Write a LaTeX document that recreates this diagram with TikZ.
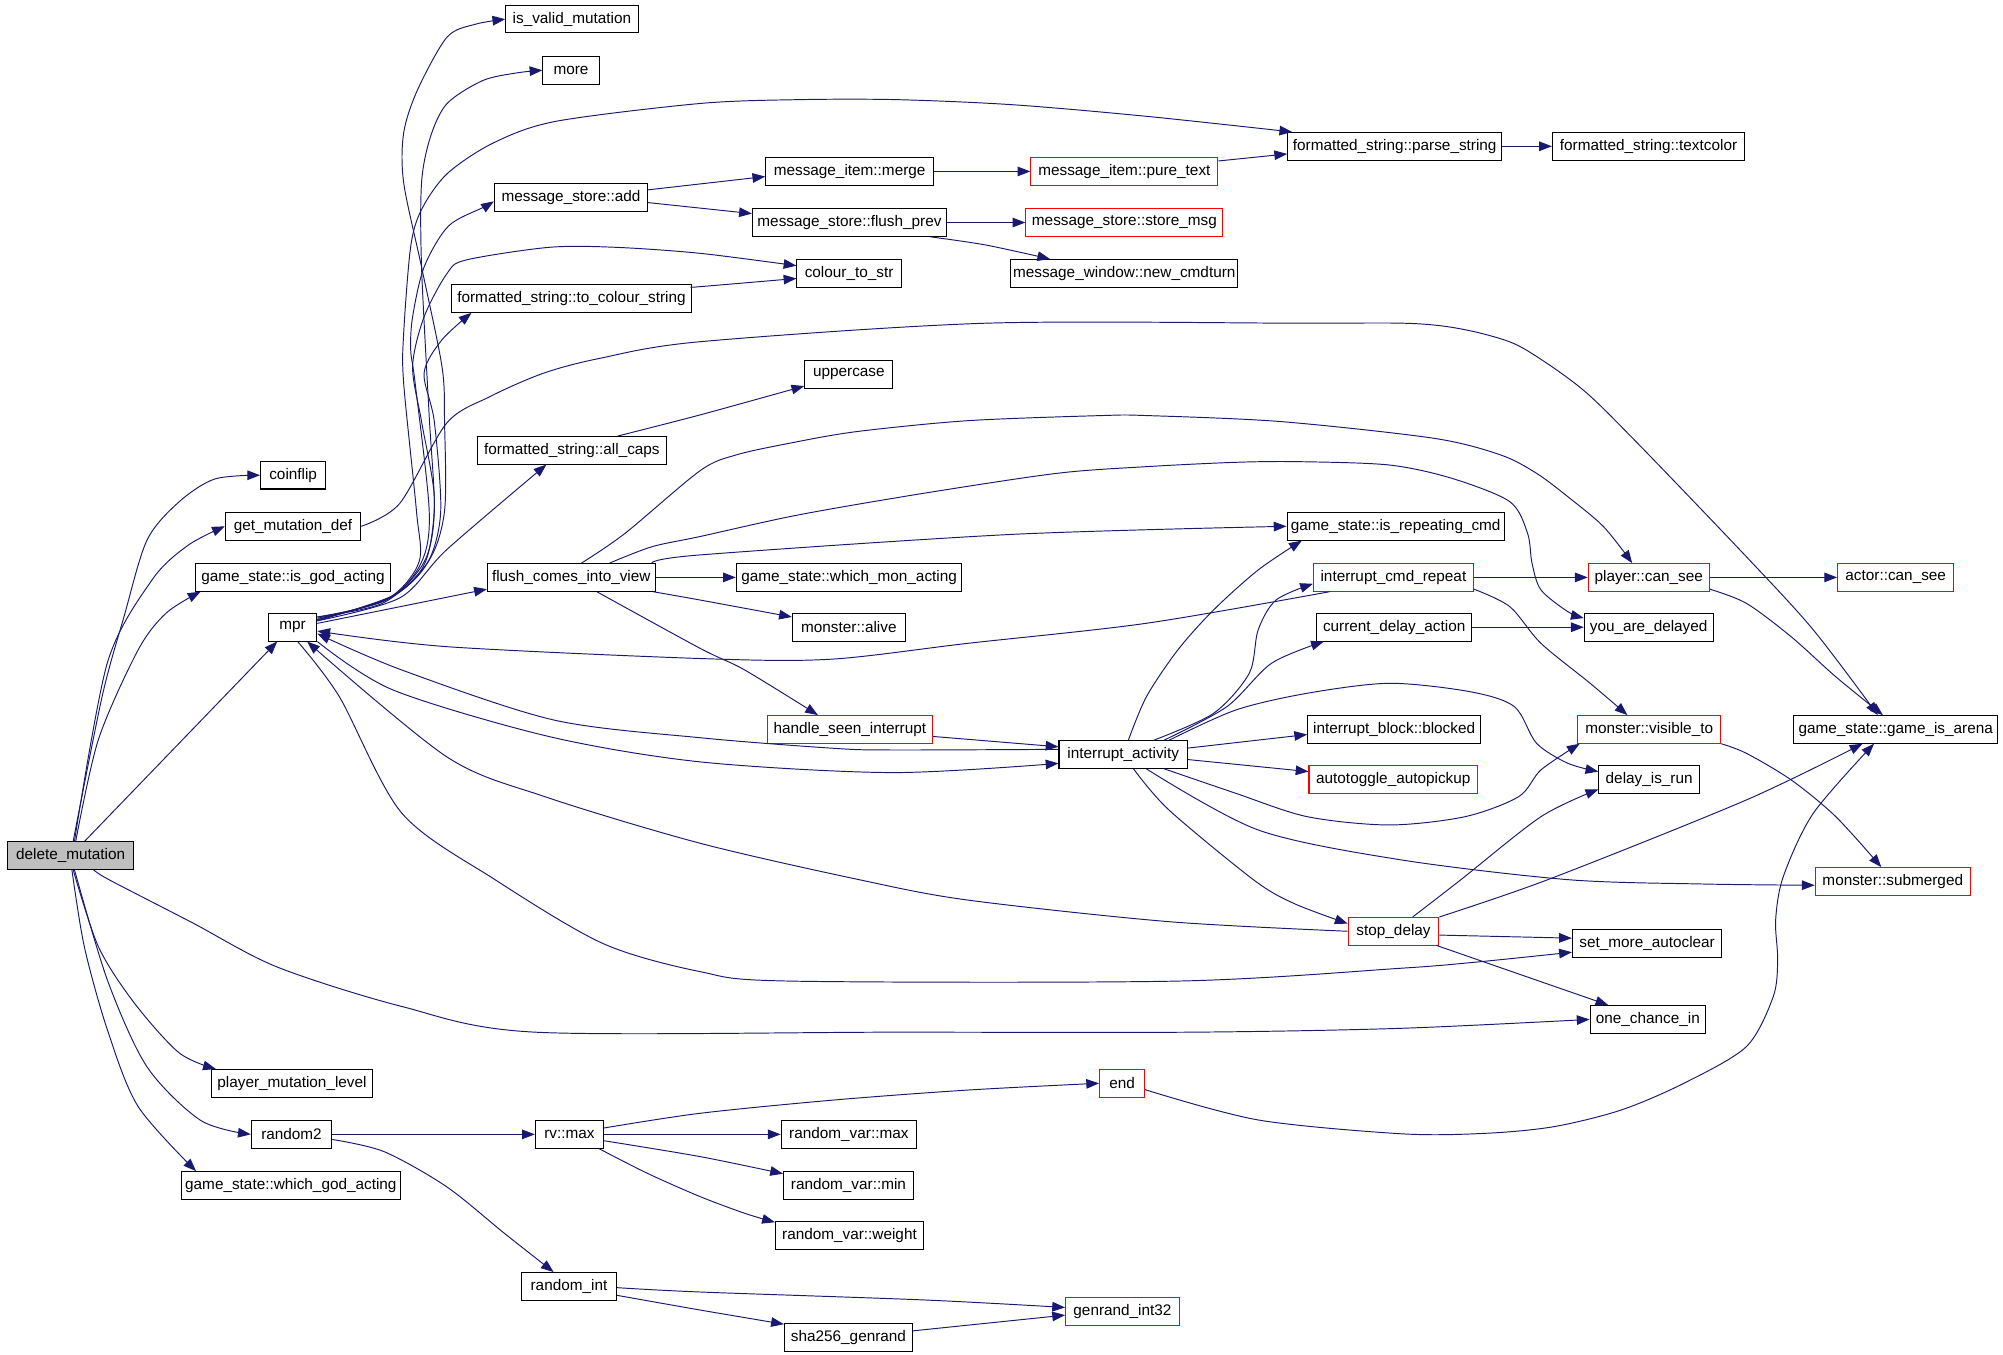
\documentclass[tikz,border=0pt]{standalone}
\usepackage{fontspec}
\setmainfont{Liberation Sans}
\usetikzlibrary{arrows.meta}
\definecolor{edgec}{RGB}{25,25,112}
\definecolor{dmfill}{RGB}{191,191,191}
\newcommand\nodefont{\fontsize{12}{14}\selectfont}
\tikzset{
  box/.style={draw=black, line width=0.8pt, minimum height=21.6pt, inner sep=0pt, font=\nodefont},
  redbox/.style={box, draw=red},
  cl/.style={draw=edgec, line width=0.75pt, -{Triangle[length=10pt,width=7.5pt]}},
}
\newcommand\nd[5][]{\node[box,#1,minimum width=#4pt] (#2) at (#3) {#5};}
\begin{document}
\begin{tikzpicture}[x=1pt,y=-1pt]
\useasboundingbox (0,0) rectangle (1568,1060.7);
% ---------- nodes ----------
\nd[fill=dmfill]{dm}{55.3,669.7}{98.6}{delete\_mutation}
\nd{coinflip}{229.5,372}{51}{coinflip}
\nd{getmut}{229.4,412}{106}{get\_mutation\_def}
\nd{isgod}{229.4,452}{152}{game\_state::is\_god\_acting}
\nd{mpr}{229,491}{38}{mpr}
\nd{pml}{228.6,848}{126.5}{player\_mutation\_level}
\nd{random2}{228.2,888}{63}{random2}
\nd{whichgod}{227.7,928}{171.6}{game\_state::which\_god\_acting}
\nd{isvalid}{447.7,15}{103.5}{is\_valid\_mutation}
\nd{more}{447,55}{44}{more}
\nd{msadd}{447,154.6}{120}{message\_store::add}
\nd{tocol}{447.4,233.7}{187.8}{formatted\_string::to\_colour\_string}
\nd{allcaps}{447.7,352.5}{147.7}{formatted\_string::all\_caps}
\nd{flush}{447.2,452}{131.3}{flush\_comes\_into\_view}
\nd{rvmax}{445.8,888}{53.5}{rv::max}
\nd{randint}{445.4,1007}{74.4}{random\_int}
\nd{merge}{665.1,134.2}{131.3}{message\_item::merge}
\nd{flushprev}{665,174.2}{152}{message\_store::flush\_prev}
\nd{colstr}{664.7,214}{81.7}{colour\_to\_str}
\nd{upper}{664.5,293}{69}{uppercase}
\nd{whichmon}{664.7,452}{176.6}{game\_state::which\_mon\_acting}
\nd{alive}{664.5,491}{88.4}{monster::alive}
\nd[redbox]{hsi}{665.3,571}{129.4}{handle\_seen\_interrupt}
\nd{rvarmax}{664.5,888}{106}{random\_var::max}
\nd{rvarmin}{664.2,928}{101.7}{random\_var::min}
\nd{rvarw}{665,967}{116}{random\_var::weight}
\nd{sha}{664.2,1046.8}{100.3}{sha256\_genrand}
\nd[redbox]{puretext}{880.2,134.2}{146.5}{message\_item::pure\_text}
\nd[redbox]{storemsg}{880.2,174.2}{154.3}{message\_store::store\_msg}
\nd{newcmd}{880.1,214}{177.7}{message\_window::new\_cmdturn}
\nd{intact}{879.3,590.6}{100.6}{interrupt\_activity}
\nd[redbox]{end}{878.4,848}{35.2}{end}
\nd[redbox]{genrand}{878.7,1026.5}{89.1}{genrand\_int32}
\nd{parse}{1091.8,114.5}{167.6}{formatted\_string::parse\_string}
\nd{isrep}{1092.6,412}{170.2}{game\_state::is\_repeating\_cmd}
\nd[redbox]{icr}{1090.8,452}{125.2}{interrupt\_cmd\_repeat}
\nd{cda}{1091.4,491}{121.3}{current\_delay\_action}
\nd{ibb}{1091.4,571}{135.5}{interrupt\_block::blocked}
\nd[redbox]{autop}{1090.7,610}{132}{autotoggle\_autopickup}
\nd[redbox]{stopd}{1090.9,729}{71}{stop\_delay}
\nd{textcolor}{1290.5,114.5}{150.5}{formatted\_string::textcolor}
\nd[redbox]{pcs}{1290.7,452}{94.8}{player::can\_see}
\nd{yad}{1290.6,491}{100.8}{you\_are\_delayed}
\nd[redbox]{mvt}{1291,571}{112}{monster::visible\_to}
\nd{dir}{1291,610}{78.8}{delay\_is\_run}
\nd{sma}{1289.4,738.4}{117}{set\_more\_autoclear}
\nd{oci}{1290,798}{90.5}{one\_chance\_in}
\nd[redbox]{acs}{1484,452}{91}{actor::can\_see}
\nd{gia}{1484,571}{160}{game\_state::game\_is\_arena}
\nd[redbox]{msub}{1481.7,690}{121.5}{monster::submerged}
% ---------- edges from delete_mutation ----------
\draw[cl] plot[smooth] coordinates {([xshift=2pt]dm.north) (80,545) (97,483) (115,423) (140,393) (168,375) (coinflip.west)};
\draw[cl] plot[smooth] coordinates {([xshift=3pt]dm.north) (84,519) (119,454) (147,427) (getmut.west)};
\draw[cl] plot[smooth] coordinates {([xshift=4pt]dm.north) (77,579) (108,509) (130,480) ([xshift=4pt]isgod.south west)};
\draw[cl] ([xshift=11pt]dm.north) -- ([xshift=-12pt]mpr.south);
\draw[cl] plot[smooth] coordinates {([xshift=2pt]dm.south) (77,741) (105,785) (140,824) ([xshift=4pt]pml.north west)};
\draw[cl] plot[smooth] coordinates {([xshift=3pt]dm.south) (84,767) (115,835) (157,877) (random2.west)};
\draw[cl] plot[smooth] coordinates {([xshift=1pt]dm.south) (66,741) (84,806) (108,866) ([xshift=12pt]whichgod.north west)};
\draw[cl] plot[smooth] coordinates {([xshift=18pt]dm.south) (86,689) (150,722) (217,757) (315,788) (419,808) (700,808) (933,808) (1096,805) (oci.west)};
% ---------- edges from mpr ----------
\draw[cl] plot[smooth] coordinates {([yshift=8pt]mpr.east) (300,472) (335,440) (348,400) (348,330) (346,287) (330,209) (316,143) (316,104) (327,70) (350,29) (372,19) (isvalid.west)};
\draw[cl] plot[smooth] coordinates {([yshift=8pt]mpr.east) (302,470) (332,440) (340,400) (336,326) (330,209) (330,143) (337,107) (350,81) (378,63) (405,57) (more.west)};
\draw[cl] plot[smooth] coordinates {([yshift=7pt]mpr.east) (303,469) (328,440) (326,400) (316,300) (316,261) (321.5,193) (330,164) (350,136) (386,112) (435,95) (548,81) (625,78) (702,78) (793,82) (897,91) ([xshift=4pt]parse.north west)};
\draw[cl] plot[smooth] coordinates {([yshift=6pt]mpr.east) (305,468) (330,440) (336,400) (325,300) (321.5,274) (323,248) (332,209) (351,177) (379,162) ([yshift=-3pt]msadd.west)};
\draw[cl] plot[smooth] coordinates {([yshift=6pt]mpr.east) (307,467) (333,440) (340,390) (330,330) (323,287) (332,248) (350,214) (365,203.5) (430,193.6) (482,193.6) (548,198.3) ([yshift=6pt]colstr.west)};
\draw[cl] plot[smooth] coordinates {([yshift=5pt]mpr.east) (308,466) (335,440) (345,400) (340,330) (332,292) (346,266) ([xshift=16pt]tocol.south west)};
\draw[cl] plot[smooth] coordinates {([yshift=5pt]mpr.east) (313,468) (350,430) ([xshift=-20pt]allcaps.south)};
\draw[cl] ([yshift=3pt]mpr.east) -- ([yshift=2pt]flush.south west);
\draw[cl] plot[smooth] coordinates {([xshift=4pt]mpr.south) (265.6,545.3) (314.6,636.6) (388,688.9) (471.8,738.5) (548,760.6) (618,768) (922,768) (1096,758) (1157,753) ([yshift=-7pt]sma.west)};
\draw[cl] plot[smooth] coordinates {(mpr.south east) (307.6,540.1) (429.9,576.6) (548,596.4) (698.3,604.8) ([yshift=-7pt]intact.west)};
% ---------- callers back into mpr ----------
\draw[cl] plot[smooth] coordinates {(stopd.west) (915,721.5) (757.7,704.6) (673.8,688.9) (548,660.1) (426.4,623.6) (349.5,592.3) ([xshift=-8pt]mpr.south east)};
\draw[cl] plot[smooth] coordinates {([xshift=-50pt]icr.south) (897.5,487.9) (757.7,503.6) (649.4,516.1) (548,515.5) (349.5,506.2) ([yshift=-3pt]mpr.east)};
\draw[cl] plot[smooth] coordinates {([yshift=4pt]intact.west) (698.3,587.1) (652.9,585.8) (548,577.5) (433.4,563.6) (314.6,524.5) ([yshift=-5pt]mpr.east)};
% ---------- get_mutation_def ----------
\draw[cl] plot[smooth] coordinates {(getmut.east) (313,394) (349.6,331.3) (383.5,310.5) (425.3,292.2) (469.6,280.5) (548,267.5) (772,253) (1017.6,253) (1098,253) (1133,255.7) (1164.4,262.2) (1192.4,272.6) (1237.8,304) (1280,345) (1367,435.7) (1419.5,493.1) ([xshift=-14pt]gia.north)};
% ---------- message edges ----------
\draw[cl] ([yshift=6pt]msadd.east) -- ([yshift=-4pt]merge.west);
\draw[cl] ([yshift=-4pt]msadd.east) -- ([yshift=7pt]flushprev.west);
\draw[cl] (merge.east) -- (puretext.west);
\draw[cl] ([yshift=-3pt]puretext.north east) -- ([yshift=-6pt]parse.west);
\draw[cl] (parse.east) -- (textcolor.west);
\draw[cl] (flushprev.east) -- (storemsg.west);
\draw[cl] plot[smooth] coordinates {([xshift=-13pt]flushprev.south east) (771.7,191.8) ([xshift=-58pt]newcmd.north)};
\draw[cl] plot[smooth] coordinates {([yshift=9pt]tocol.east) (548,224.4) ([yshift=-4pt]colstr.west)};
\draw[cl] plot[smooth] coordinates {([xshift=36pt]allcaps.north) (548,324.8) ([yshift=2pt]upper.south west)};
% ---------- flush_comes_into_view ----------
\draw[cl] plot[smooth] coordinates {([xshift=-3pt]flush.north east) (548,434.4) (792.7,418.3) (isrep.west)};
\draw[cl] plot[smooth] coordinates {([xshift=8pt]flush.north) (489.3,417.5) (548,368.5) (576,356.2) (617.9,347) (670.3,337.9) (757.7,329.3) (862.6,325.3) (897.5,325.3) (1002.4,330) (1122.5,343.1) (1174.9,356.2) (1202.8,370.5) (1227.3,388.8) (1255.3,412.3) ([xshift=-13pt]pcs.north)};
\draw[cl] plot[smooth] coordinates {([xshift=30pt]flush.north) (510.3,428) (548,420) (624.9,403.1) (722.8,386.2) (827.6,370.5) (897.5,365.3) (967.4,361.9) (1017,361.4) (1087.5,364) (1136.4,374.4) (1181.9,392.7) (1195.8,417.5) (1199.3,441) (1206.3,461.8) (1227.3,478.8) ([yshift=-4pt]yad.north west)};
\draw[cl] (flush.east) -- (whichmon.west);
\draw[cl] plot[smooth] coordinates {([xshift=-2pt]flush.south east) (548,469.7) ([yshift=8pt]alive.west)};
\draw[cl] plot[smooth] coordinates {([xshift=20pt]flush.south) (548,507.5) (583,524.5) ([xshift=-25pt]hsi.north)};
\draw[cl] ([yshift=-5.5pt]hsi.east) -- ([yshift=6pt]intact.west);
% ---------- interrupt_activity ----------
\draw[cl] plot[smooth] coordinates {([xshift=4pt]intact.north) (897.5,545.3) (922,508.8) (950,477.5) (984.9,446.2) ([xshift=12pt]isrep.south west)};
\draw[cl] plot[smooth] coordinates {([xshift=24pt]intact.north) (950,558.4) (977.9,527.1) (984.9,493.1) (998.9,469.7) ([yshift=-5pt]icr.west)};
\draw[cl] plot[smooth] coordinates {([xshift=32pt]intact.north) (960.4,553.2) (995.4,519.2) ([xshift=6pt]cda.south west)};
\draw[cl] plot[smooth] coordinates {([xshift=36pt]intact.north) (967.4,555.8) (1023.3,542.7) (1087.5,534.9) (1150.4,541.4) (1185.4,553.1) (1202.8,581.8) (1227.3,597.5) ([yshift=6pt]dir.west)};
\draw[cl] ([yshift=5pt]intact.east) -- ([yshift=-4pt]ibb.west);
\draw[cl] ([yshift=-4pt]intact.east) -- ([yshift=6pt]autop.west);
\draw[cl] plot[smooth] coordinates {([xshift=32pt]intact.south) (967.4,621) (1023.3,639.3) (1087.5,645.8) (1146.9,639.3) (1188.9,623.6) (1206.3,602.7) ([xshift=2pt]mvt.south west)};
\draw[cl] plot[smooth] coordinates {([xshift=18pt]intact.south) (984.9,649.7) (1096,673) (1227.3,688.6) (1332.2,692) ([yshift=-3pt]msub.west)};
\draw[cl] plot[smooth] coordinates {([xshift=8pt]intact.south) (915,634) (981.4,688.8) (1012.8,707.2) ([yshift=6pt]stopd.west)};
% ---------- interrupt_cmd_repeat, current_delay_action, player::can_see ----------
\draw[cl] (icr.east) -- (pcs.west);
\draw[cl] plot[smooth] coordinates {([yshift=2pt]icr.south east) (1181.9,474.9) (1206.3,503.6) (1244.8,534.9) ([xshift=-17pt]mvt.north)};
\draw[cl] (cda.east) -- (yad.west);
\draw[cl] (pcs.east) -- (acs.west);
\draw[cl] plot[smooth] coordinates {([yshift=2pt]pcs.south east) (1367.1,472.3) (1402.1,498.4) (1437,529.7) ([xshift=-10pt]gia.north)};
\draw[cl] plot[smooth] coordinates {(mvt.south east) (1367.1,589.7) (1402.1,610.5) (1437,639.2) ([xshift=-9pt]msub.north)};
% ---------- stop_delay ----------
\draw[cl] plot[smooth] coordinates {([xshift=15pt]stopd.north) (1143.4,688.8) (1206.3,639.3) ([yshift=-8pt]dir.west)};
\draw[cl] plot[smooth] coordinates {(stopd.north east) (1213.3,688) (1367.1,626.2) ([xshift=-26pt]gia.south)};
\draw[cl] ([yshift=-3pt]stopd.east) -- ([yshift=4pt]sma.west);
\draw[cl] ([xshift=-2pt]stopd.south east) -- ([xshift=-31pt]oci.north);
% ---------- end ----------
\draw[cl] plot[smooth] coordinates {([yshift=-5pt]end.east) (984.8,876.7) (1098,887.6) (1164.4,887.1) (1216.8,881.9) (1269.2,868.9) (1318.2,848) (1367.1,819.3) (1388.1,780.2) (1391.6,751.5) (1390,720.2) (1396,686.2) (1419.5,636.6) ([xshift=-17pt]gia.south)};
% ---------- random ----------
\draw[cl] (random2.east) -- (rvmax.west);
\draw[cl] plot[smooth] coordinates {([yshift=-4pt]random2.east) (300.6,901.5) (349.5,928.9) (394.9,965.5) ([xshift=-12pt]randint.north)};
\draw[cl] plot[smooth] coordinates {([yshift=5pt]rvmax.east) (548,871.5) (652.9,861.1) (757.7,853.3) (end.west)};
\draw[cl] (rvmax.east) -- (rvarmax.west);
\draw[cl] plot[smooth] coordinates {([yshift=-5pt]rvmax.east) (548,905.4) ([yshift=-2pt]rvarmin.north west)};
\draw[cl] plot[smooth] coordinates {([xshift=-4pt]rvmax.south east) (506.8,918.5) (548,936.7) (583,949.8) ([yshift=-1pt]rvarw.north west)};
\draw[cl] plot[smooth] coordinates {([yshift=-1pt]randint.east) (548,1011.4) (722.8,1017.6) ([yshift=3pt]genrand.west)};
\draw[cl] plot[smooth] coordinates {([yshift=-7pt]randint.east) (548,1025.5) ([yshift=-1pt]sha.north west)};
\draw[cl] ([yshift=5pt]sha.east) -- ([yshift=-3pt]genrand.west);
\end{tikzpicture}
\end{document}
